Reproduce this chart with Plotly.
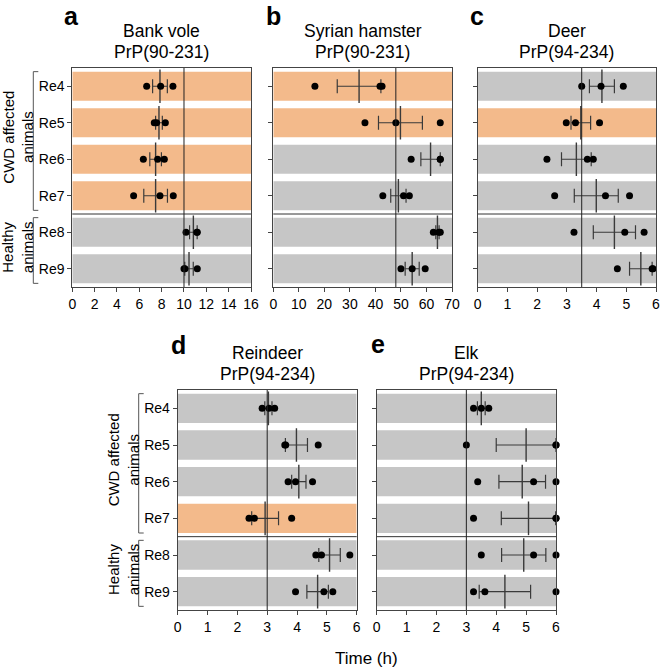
import plotly.graph_objects as go

# ---------------- data ----------------
rows = ["Re4", "Re5", "Re6", "Re7", "Re8", "Re9"]

a_title = ["Bank vole", "PrP(90-231)"]
a_ref = 10
a_ticks = [0, 2, 4, 6, 8, 10, 12, 14, 16]
a_orange = [True, True, True, True, False, False]
a_means = [7.85, 7.76, 7.46, 7.46, 10.84, 10.45]
a_sem = [0.66, 0.30, 0.52, 1.06, 0.34, 0.38]
a_dots = [[6.66, 7.91, 9.01], [7.34, 7.55, 8.33], [6.36, 7.64, 8.24],
          [5.49, 7.85, 9.04], [10.18, 11.15, 11.19], [10.00, 10.09, 11.19]]

b_title = ["Syrian hamster", "PrP(90-231)"]
b_ref = 48
b_ticks = [0, 10, 20, 30, 40, 50, 60, 70]
b_orange = [True, True, False, False, False, False]
b_means = [33.6, 49.8, 61.6, 49.0, 64.3, 54.4]
b_sem = [8.55, 8.6, 3.8, 3.0, 0.65, 2.75]
b_dots = [[16.3, 41.8, 42.6], [35.9, 48.0, 65.4], [54.0, 65.4, 65.4],
          [42.9, 51.0, 53.3], [62.7, 64.8, 65.4], [50.0, 54.4, 59.5]]

c_title = ["Deer", "PrP(94-234)"]
c_ref = 3.5
c_ticks = [0, 1, 2, 3, 4, 5, 6]
c_orange = [False, True, False, False, False, False]
c_means = [4.18, 3.47, 3.32, 3.99, 4.60, 5.49]
c_sem = [0.42, 0.33, 0.50, 0.74, 0.71, 0.38]
c_dots = [[3.50, 4.15, 4.90], [2.98, 3.29, 4.10], [2.33, 3.69, 3.89],
          [2.59, 4.30, 5.11], [3.24, 4.95, 5.60], [4.70, 5.87, 5.90]]

d_title = ["Reindeer", "PrP(94-234)"]
d_ref = 3
d_ticks = [0, 1, 2, 3, 4, 5, 6]
d_orange = [False, False, False, True, False, False]
d_means = [3.04, 3.98, 4.06, 2.93, 5.09, 4.69]
d_sem = [0.12, 0.37, 0.24, 0.45, 0.36, 0.36]
d_dots = [[2.83, 3.06, 3.25], [3.59, 3.62, 4.71], [3.70, 3.95, 4.52],
          [2.39, 2.57, 3.82], [4.63, 4.82, 5.77], [3.95, 4.90, 5.20]]

e_title = ["Elk", "PrP(94-234)"]
e_ref = 3
e_ticks = [0, 1, 2, 3, 4, 5, 6]
e_orange = [False, False, False, False, False, False]
e_means = [3.50, 5.00, 4.87, 5.08, 4.92, 4.29]
e_sem = [0.13, 1.00, 0.78, 0.91, 0.74, 0.86]
e_dots = [[3.24, 3.50, 3.75], [3.00, 6.00, 6.00], [3.38, 5.25, 6.00],
          [3.24, 6.00, 6.00], [3.50, 5.25, 6.00], [3.24, 3.62, 6.00]]

group_labels = ["CWD affected<br>animals", "Healthy<br>animals"]
x_label = "Time (h)"

# ---------------- layout helpers ----------------
W, H = 660, 672
FONT = "Arial, Liberation Sans, Helvetica, sans-serif"
ORANGE = "#F3BA8B"
GRAY = "#C6C6C6"
DARK = "#3a3a3a"


def px(x):
    return x / W


def py(y):
    return 1 - y / H


panels = [
    dict(letter="a", title=a_title, ref=a_ref, ticks=a_ticks, orange=a_orange,
         means=a_means, sem=a_sem, dots=a_dots, x0=72.3, x1=251.0, y0=68, y1=287,
         labels=True, letter_pos=(71, 16)),
    dict(letter="b", title=b_title, ref=b_ref, ticks=b_ticks, orange=b_orange,
         means=b_means, sem=b_sem, dots=b_dots, x0=273.3, x1=452.0, y0=68, y1=287,
         labels=False, letter_pos=(273, 16)),
    dict(letter="c", title=c_title, ref=c_ref, ticks=c_ticks, orange=c_orange,
         means=c_means, sem=c_sem, dots=c_dots, x0=477.7, x1=656.0, y0=68, y1=287,
         labels=False, letter_pos=(477, 16)),
    dict(letter="d", title=d_title, ref=d_ref, ticks=d_ticks, orange=d_orange,
         means=d_means, sem=d_sem, dots=d_dots, x0=177.7, x1=356.7, y0=390, y1=610,
         labels=True, letter_pos=(178, 345)),
    dict(letter="e", title=e_title, ref=e_ref, ticks=e_ticks, orange=e_orange,
         means=e_means, sem=e_sem, dots=e_dots, x0=376.7, x1=556.0, y0=390, y1=610,
         labels=False, letter_pos=(378, 344)),
]

fig = go.Figure()
layout = dict(width=W, height=H, margin=dict(l=0, r=0, t=0, b=0, autoexpand=False),
              paper_bgcolor="white", plot_bgcolor="white", showlegend=False,
              font=dict(family=FONT, color="black", size=14))
shapes = []
annotations = []
ypos = list(range(len(rows)))

for i, p in enumerate(panels):
    n = "" if i == 0 else str(i + 1)
    xa, ya = "x" + n, "y" + n
    xmax = p["ticks"][-1]

    # background bands
    fig.add_trace(go.Bar(
        x=[xmax] * len(rows), y=ypos, orientation="h", width=0.8, base=0,
        marker=dict(color=[ORANGE if o else GRAY for o in p["orange"]], line=dict(width=0)),
        xaxis=xa, yaxis=ya, hoverinfo="skip"))
    # mean +/- sem
    fig.add_trace(go.Scatter(
        x=p["means"], y=ypos, mode="markers",
        marker=dict(symbol="line-ns-open", size=24, line=dict(width=1.4, color=DARK), color=DARK),
        error_x=dict(type="data", array=p["sem"], color=DARK, thickness=1.2, width=7),
        xaxis=xa, yaxis=ya, hoverinfo="skip"))
    # individual dots
    dx, dy = [], []
    for r, vals in enumerate(p["dots"]):
        for v in vals:
            dx.append(v)
            dy.append(r)
    fig.add_trace(go.Scatter(
        x=dx, y=dy, mode="markers", cliponaxis=False,
        marker=dict(symbol="circle", size=7, color="black"),
        xaxis=xa, yaxis=ya, hoverinfo="skip"))

    layout["xaxis" + n] = dict(
        domain=[px(p["x0"]), px(p["x1"])], anchor=ya, range=[0, xmax],
        tickmode="array", tickvals=p["ticks"], ticks="outside", ticklen=4,
        tickcolor="#444", showline=True, linecolor="#444", linewidth=1, mirror=True,
        showgrid=False, zeroline=False, tickfont=dict(size=14, color="black"),
        ticklabeloverflow="allow", automargin=False)
    layout["yaxis" + n] = dict(
        domain=[py(p["y1"]), py(p["y0"])], anchor=xa, range=[5.5, -0.5],
        tickmode="array", tickvals=ypos, ticktext=rows if p["labels"] else [""] * 6,
        ticks="outside", ticklen=4, tickcolor="#444", showline=True, linecolor="#444",
        linewidth=1, mirror=True, showgrid=False, zeroline=False,
        tickfont=dict(size=14, color="black"), automargin=False)

    # divider between groups
    shapes.append(dict(type="line", xref=xa + " domain", yref=ya, x0=0, x1=1, y0=3.5, y1=3.5,
                       line=dict(color="#333", width=1)))
    # reference line
    shapes.append(dict(type="line", xref=xa, yref=ya + " domain", x0=p["ref"], x1=p["ref"],
                       y0=0, y1=1, line=dict(color="#222", width=1)))

    # titles
    cx = px((p["x0"] + p["x1"]) / 2)
    for k, t in enumerate(p["title"]):
        annotations.append(dict(text=t, x=cx, y=py(p["y0"] - 37 + 21 * k), xref="paper", yref="paper",
                                showarrow=False, xanchor="center", yanchor="middle",
                                font=dict(size=17.5, color="black")))
    lx, ly = p["letter_pos"]
    annotations.append(dict(text="<b>%s</b>" % p["letter"], x=px(lx), y=py(ly), xref="paper",
                            yref="paper", showarrow=False, xanchor="center", yanchor="middle",
                            font=dict(size=25, color="black")))

    if p["labels"]:
        bx = px(p["x0"] - 39)
        bt = px(p["x0"] - 34)
        for (ya0, ya1), lab, yc in zip([(-0.4, 3.4), (3.6, 5.4)], group_labels, [1.4, 4.4]):
            shapes.append(dict(type="line", xref="paper", yref=ya, x0=bx, x1=bx, y0=ya0, y1=ya1,
                               line=dict(color="#555", width=1)))
            for yy in (ya0, ya1):
                shapes.append(dict(type="line", xref="paper", yref=ya, x0=bx, x1=bt, y0=yy, y1=yy,
                                   line=dict(color="#555", width=1)))
            annotations.append(dict(text=lab, x=px(p["x0"] - 54), y=yc, xref="paper", yref=ya,
                                    showarrow=False, textangle=-90, xanchor="center",
                                    yanchor="middle", font=dict(size=15, color="black")))

annotations.append(dict(text=x_label, x=px(366), y=py(658), xref="paper", yref="paper",
                        showarrow=False, xanchor="center", yanchor="middle",
                        font=dict(size=17, color="black")))

layout["shapes"] = shapes
layout["annotations"] = annotations
fig.update_layout(**layout)
# remove the browser's default 8px body margin so the figure fills the window
fig.write_html("out.html",
               config={"displayModeBar": False, "staticPlot": True},
               post_script="document.body.style.margin='0';document.body.style.overflow='hidden';")
